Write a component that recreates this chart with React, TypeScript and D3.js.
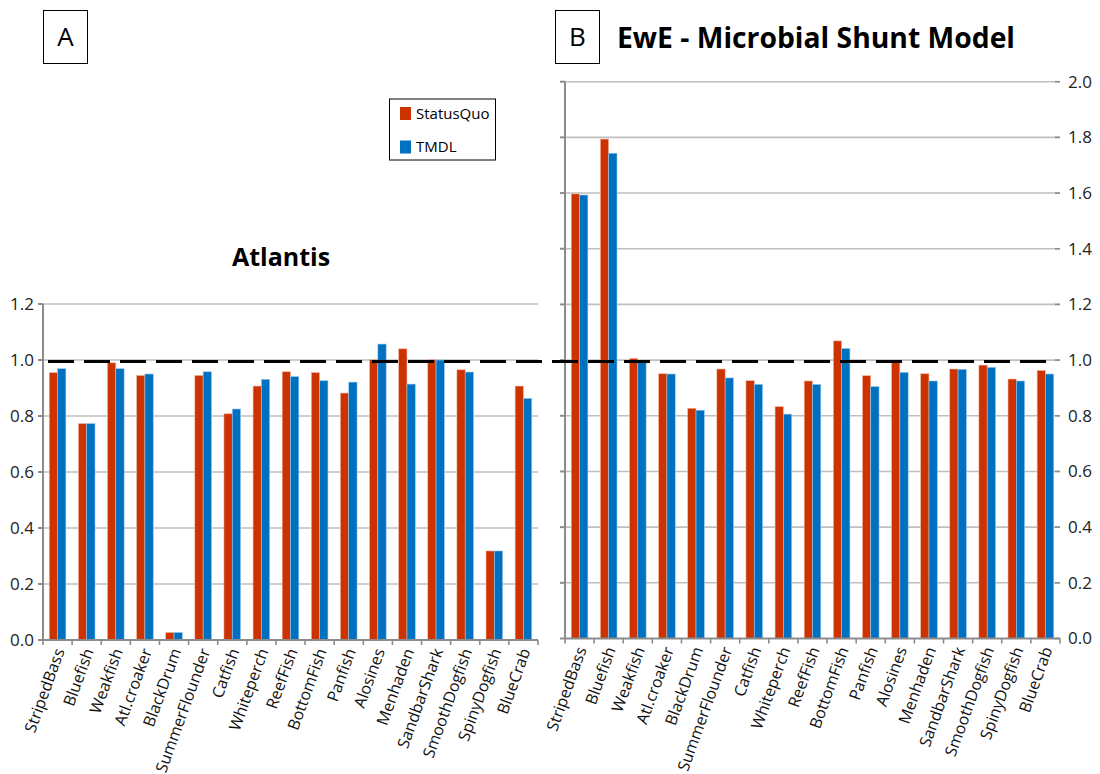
import React from "react";
import * as d3 from "d3";

const categories = ["StripedBass","Bluefish","Weakfish","Atl.croaker","BlackDrum","SummerFlounder","Catfish","Whiteperch","ReefFish","BottomFish","Panfish","Alosines","Menhaden","SandbarShark","SmoothDogfish","SpinyDogfish","BlueCrab"];
const atlantisStatusQuo = [0.955,0.773,0.990,0.945,0.027,0.945,0.808,0.907,0.958,0.955,0.882,1.001,1.040,1.001,0.965,0.318,0.907];
const atlantisTMDL = [0.969,0.773,0.969,0.950,0.027,0.958,0.825,0.931,0.941,0.926,0.921,1.057,0.914,1.000,0.957,0.318,0.863];
const eweStatusQuo = [1.597,1.794,1.006,0.951,0.827,0.968,0.926,0.833,0.925,1.069,0.944,0.991,0.951,0.968,0.982,0.932,0.963];
const eweTMDL = [1.593,1.743,0.991,0.950,0.820,0.936,0.913,0.806,0.913,1.042,0.905,0.956,0.925,0.967,0.974,0.925,0.950];
const leftTicks = [0,0.2,0.4,0.6,0.8,1.0,1.2];
const rightTicks = [0,0.2,0.4,0.6,0.8,1.0,1.2,1.4,1.6,1.8,2.0];
const series = ["StatusQuo","TMDL"];
const colors = ["#CC3300","#0070C0"];

const FONT = "'Open Sans', 'Noto Sans', sans-serif";

function Panel({x0,x1,yBottom,yTop,maxV,ticks,sq,tm,labelsRight}:{x0:number;x1:number;yBottom:number;yTop:number;maxV:number;ticks:number[];sq:number[];tm:number[];labelsRight:boolean}) {
  const x = d3.scaleBand<string>().domain(categories).range([x0,x1]).padding(0);
  const xs = d3.scaleBand<string>().domain(series).range([0,x.bandwidth()]).paddingInner(0).paddingOuter(0.75);
  const y = d3.scaleLinear().domain([0,maxV]).range([yBottom,yTop]);
  const boundaries = categories.map(c => x(c) as number).concat([x1]);
  return (
    <g>
      {ticks.filter(t=>t>0).map(t => (
        <line key={"g"+t} x1={x0} x2={x1} y1={y(t)} y2={y(t)} stroke="#bfbfbf" strokeWidth={1.6}/>
      ))}
      {categories.map((c,i) => (
        <g key={c}>
          {[sq[i],tm[i]].map((v,j) => (
            <rect key={j} x={(x(c) as number)+(xs(series[j]) as number)} y={y(v)} width={xs.bandwidth()} height={y(0)-y(v)} fill={colors[j]} stroke={j===0?"#f3b9a3":"#9cc8ea"} strokeWidth={0.6}/>
          ))}
        </g>
      ))}
      <line x1={x0} x2={x0} y1={y(maxV)} y2={y(0)} stroke="#8c8c8c" strokeWidth={2}/>
      {ticks.map(t => (
        <line key={"lt"+t} x1={x0-5} x2={x0} y1={y(t)} y2={y(t)} stroke="#8c8c8c" strokeWidth={2}/>
      ))}
      {labelsRight && ticks.map(t => (
        <line key={"rt"+t} x1={x1-5} x2={x1} y1={y(t)} y2={y(t)} stroke="#8c8c8c" strokeWidth={1.6}/>
      ))}
      <line x1={x0} x2={x1} y1={y(0)} y2={y(0)} stroke="#8c8c8c" strokeWidth={2}/>
      {boundaries.map((b,i) => (
        <line key={"bt"+i} x1={b} x2={b} y1={y(0)} y2={y(0)+5} stroke="#8c8c8c" strokeWidth={1.6}/>
      ))}
      {ticks.map(t => (
        <text key={"tl"+t} x={labelsRight ? x1+8 : x0-9} y={y(t)} dy="0.35em" textAnchor={labelsRight?"start":"end"} fontSize={17} fontFamily={FONT} fill="#222">{d3.format(".1f")(t)}</text>
      ))}
      {categories.map(c => {
        const cx = (x(c) as number) + x.bandwidth()/2 + 2;
        const cy = y(0) + 9;
        return (
          <text key={"xl"+c} transform={`translate(${cx},${cy}) rotate(-70)`} textAnchor="end" dy="0.35em" fontSize={16} fontFamily={FONT} fill="#111">{c}</text>
        );
      })}
    </g>
  );
}

export default function App() {
  return (
    <svg width={1100} height={774} style={{display:"block", position:"absolute", left:0, top:0, background:"#fff"}}>
      <rect x={0} y={0} width={1100} height={774} fill="#fff"/>
      <Panel x0={43} x1={538} yBottom={640} yTop={304} maxV={1.2} ticks={leftTicks} sq={atlantisStatusQuo} tm={atlantisTMDL} labelsRight={false}/>
      <Panel x0={565} x1={1060} yBottom={638.5} yTop={81.7} maxV={2.0} ticks={rightTicks} sq={eweStatusQuo} tm={eweTMDL} labelsRight={true}/>
      <line x1={48} x2={1056} y1={361.5} y2={361.5} stroke="#000" strokeWidth={3.2} strokeDasharray="26,10"/>
      <rect x={43.5} y={10.5} width={44} height={53} fill="#fff" stroke="#000" strokeWidth={1}/>
      <text x={65.5} y={46} textAnchor="middle" fontSize={26} fontFamily={FONT}>A</text>
      <rect x={555.5} y={10.5} width={44} height={53} fill="#fff" stroke="#000" strokeWidth={1}/>
      <text x={577.5} y={46} textAnchor="middle" fontSize={26} fontFamily={FONT}>B</text>
      <text x={617} y={48} fontSize={28} fontWeight="bold" fontFamily={FONT} textLength={398} lengthAdjust="spacingAndGlyphs">EwE - Microbial Shunt Model</text>
      <text x={281} y={266} textAnchor="middle" fontSize={25} fontWeight="bold" fontFamily={FONT}>Atlantis</text>
      <rect x={389.5} y={99} width={106} height={61} fill="#fff" stroke="#000" strokeWidth={1}/>
      {series.map((s,i) => (
        <g key={s}>
          <rect x={400} y={107+i*33.5} width={11} height={13} fill={colors[i]}/>
          <text x={416} y={118.5+i*33.5} fontSize={15} fontFamily={FONT}>{s}</text>
        </g>
      ))}
    </svg>
  );
}
